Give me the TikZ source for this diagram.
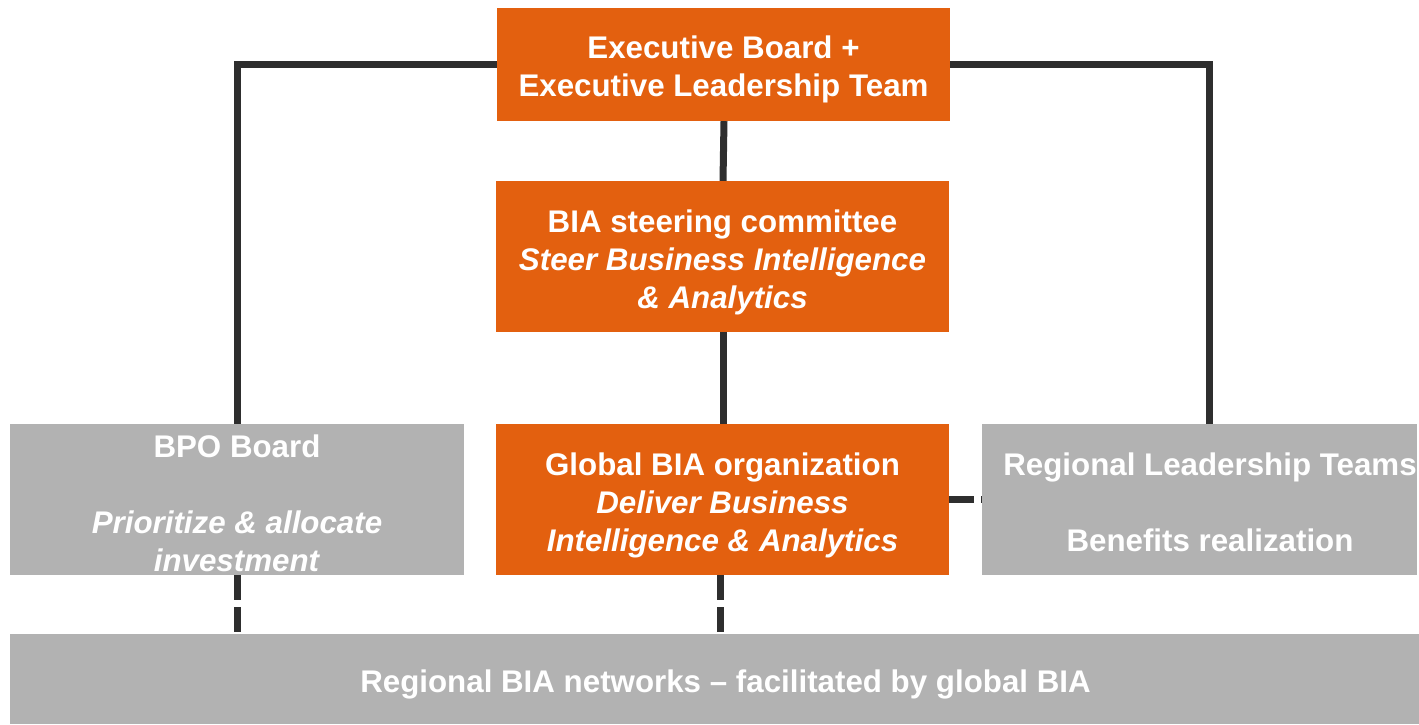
\documentclass[tikz,border=0pt]{standalone}
\usepackage{fontspec}
\setmainfont{Liberation Sans}
\definecolor{orgbox}{HTML}{E3600F}
\definecolor{graybox}{HTML}{B2B2B2}
\definecolor{linec}{HTML}{2E2E2E}
\begin{document}
\begin{tikzpicture}[x=1pt,y=-1pt,
  box/.style={rectangle,inner sep=0pt,text=white,align=center,font=\fontsize{31.3}{38}\selectfont\bfseries},
  obox/.style={box,fill=orgbox},
  gbox/.style={box,fill=graybox},
  conn/.style={draw=linec,line width=7pt},
  dconn/.style={conn,dash pattern=on 25pt off 7pt}]
\useasboundingbox (0,0) rectangle (1419,724);
\node[obox,minimum width=453pt,minimum height=113pt] (exec) at (723.5,64.5) {};
\node[box] (exect) at (723.5,69.5) {Executive Board +\\Executive Leadership Team};
\node[obox,minimum width=453pt,minimum height=151pt] (steer) at (722.5,256.5) {};
\node[box] (steert) at (722.5,262)
  {BIA steering committee\\\textit{Steer Business Intelligence}\\\textit{\& Analytics}};
\node[obox,minimum width=453pt,minimum height=151pt] (glob) at (722.5,499.5) {};
\node[box] (globt) at (722.5,505.5)
  {Global BIA organization\\\textit{Deliver Business}\\\textit{Intelligence \& Analytics}};
\node[gbox,minimum width=454pt,minimum height=151pt] (bpo) at (237,499.5) {};
\node[box,anchor=north] (bpot) at (237,435)
  {BPO Board\\ \\\textit{Prioritize \& allocate}\\\textit{investment}};
\node[gbox,minimum width=435pt,minimum height=151pt] (reg) at (1199.5,499.5) {};
\node[box] (regt) at (1210,502)
  {Regional Leadership Teams\\ \\Benefits realization};
\node[gbox,minimum width=1409pt,minimum height=90pt] (bot) at (714.5,679) {};
\node[box] (bott) at (725.5,684) {Regional BIA networks -- facilitated by global BIA};
\draw[conn] (exec.west) -| (bpo.north);
\draw[conn] (exec.east) -| ([xshift=9.5pt]reg.north);
\draw[conn] ([xshift=0.5pt]exec.south) -- ([xshift=0.5pt]steer.north);
\draw[conn] ([xshift=0.5pt]steer.south) -- ([xshift=0.5pt]glob.north);
\draw[dconn] (glob.east) -- (reg.west);
\draw[dconn] (bpo.south) -- (bpo.south |- bot.north);
\draw[dconn] ([xshift=-2.5pt]glob.south) -- ([xshift=-2.5pt]glob.south |- bot.north);
\end{tikzpicture}
\end{document}
